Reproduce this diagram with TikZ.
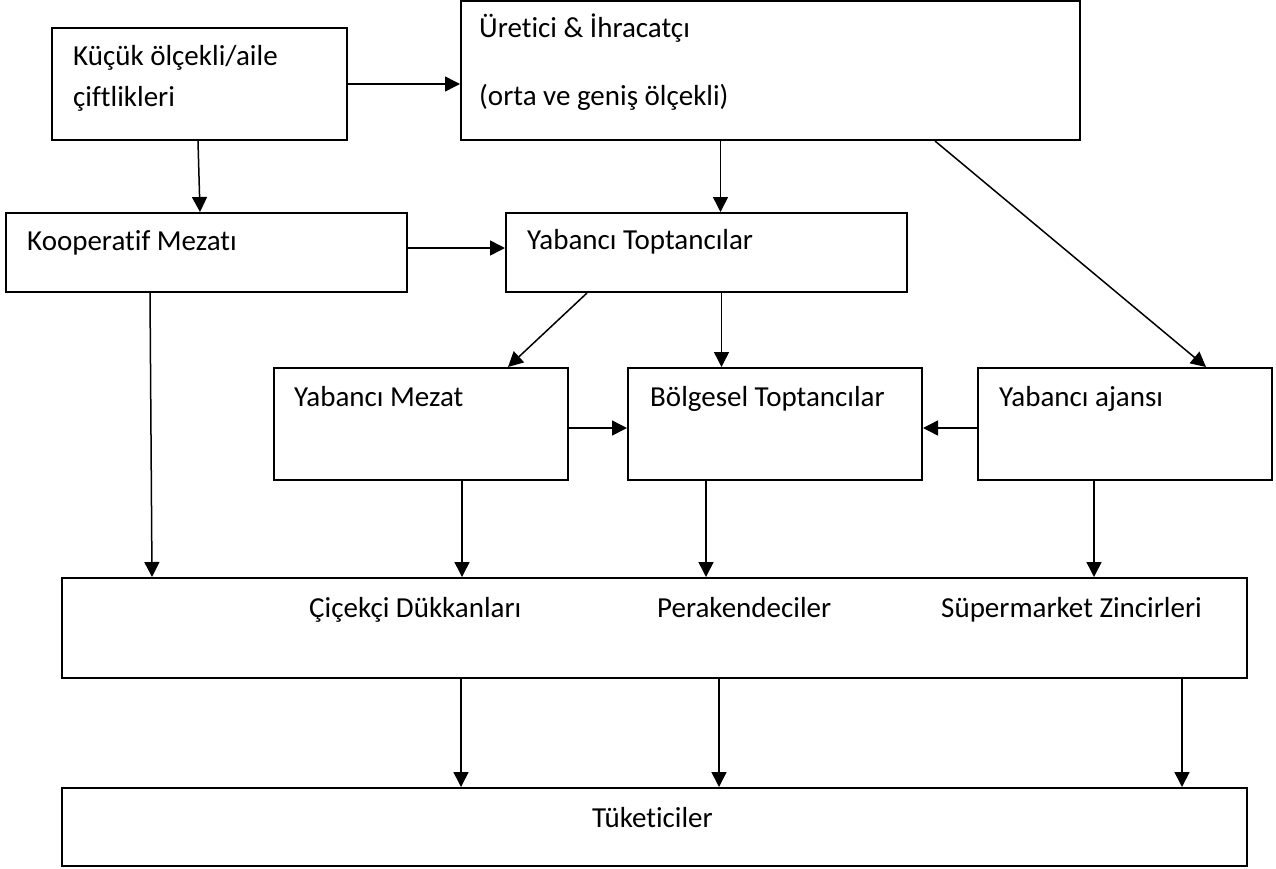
\documentclass[tikz,border=0pt]{standalone}
\usepackage{fontspec}
\setmainfont{Carlito}[Ligatures=CommonOff]
\usepackage{tikz}
\usetikzlibrary{positioning, calc, arrows.meta}
\tikzstyle{box}=[draw, line width=2pt, inner sep=0pt]
\tikzstyle{txt}=[inner sep=0pt, anchor=base west, font=\fontsize{29}{35}\selectfont]
\tikzstyle{arrow}=[-{Triangle[length=15pt,width=15pt]}, line width=1.5pt]

\begin{document}
\begin{tikzpicture}[x=1pt, y=-1pt]
  \useasboundingbox (0,0) rectangle (1276,868);
  \node [box, minimum width=295, minimum height=112] (farm) at (199.5,84) {};
  \node [box, minimum width=619, minimum height=139] (exporter) at (770.5,70.5) {};
  \node [box, minimum width=401, minimum height=79] (coop) at (206.5,252.5) {};
  \node [box, minimum width=401, minimum height=79] (wholesale-f) at (706.5,252.5) {};
  \foreach \n/\x in {auction-f/421, wholesale-r/775, agency/1125}
    \node [box, minimum width=294, minimum height=112] (\n) at (\x,424) {};
  \node [box, minimum width=1185, minimum height=100] (retail) at (654.5,628) {};
  \node [box, minimum width=1185, minimum height=78] (consumer) at (654.5,827) {};

  \node [txt] (farm-t1) at (73,65) {Küçük ölçekli/aile};
  \node [txt] (farm-t2) at (73,106) {çiftlikleri};
  \node [txt] (exporter-t1) at (479,37) {Üretici \& İhracatçı};
  \node [txt] (exporter-t2) at (479,105) {(orta ve geniş ölçekli)};
  \node [txt] (coop-t) at (27,250) {Kooperatif Mezatı};
  \node [txt] (wholesale-f-t) at (527,249) {Yabancı Toptancılar};
  \node [txt] (auction-f-t) at (294,406) {Yabancı Mezat};
  \node [txt] (wholesale-r-t) at (650,406) {Bölgesel Toptancılar};
  \node [txt] (agency-t) at (999,406) {Yabancı ajansı};
  \foreach \x/\l [count=\i] in {309/Çiçekçi Dükkanları, 657/Perakendeciler, 941/Süpermarket Zincirleri}
    \node [txt] (retail-t\i) at (\x,617) {\l};
  \node [txt] (consumer-t) at (592,827) {Tüketiciler};

  \draw [arrow] (farm.east) -- (farm.east -| exporter.west);
  \draw [arrow] ([xshift=-1.5]farm.south) -- ([xshift=-6.5]coop.north);
  \coordinate (p1) at ([xshift=-50]exporter.south);
  \draw [arrow] (p1) -- (p1 |- wholesale-f.north);
  \draw [arrow] ([xshift=164.5]exporter.south) -- ([xshift=81]agency.north);
  \coordinate (p2) at ([yshift=4.5]coop.east);
  \draw [arrow] (p2) -- (p2 -| wholesale-f.west);
  \draw [arrow] ([xshift=-56.5]coop.south) -- ([xshift=-502.5]retail.north);
  \draw [arrow] ([xshift=-119.5]wholesale-f.south) -- ([xshift=87]auction-f.north);
  \coordinate (p3) at ([xshift=15]wholesale-f.south);
  \draw [arrow] (p3) -- (p3 |- wholesale-r.north);
  \coordinate (p4) at ([yshift=-4]auction-f.east);
  \draw [arrow] (p4) -- (p4 -| wholesale-r.west);
  \coordinate (p5) at ([yshift=-4]agency.west);
  \draw [arrow] (p5) -- (p5 -| wholesale-r.east);
  \foreach \n/\d in {auction-f/41, wholesale-r/-69, agency/-31}{
    \coordinate (q) at ([xshift=\d]\n.south);
    \draw [arrow] (q) -- (q |- retail.north);
  }
  \foreach \d in {400,658,1121}
    \draw [arrow] ([xshift=\d]retail.south west) -- ([xshift=\d]consumer.north west);
\end{tikzpicture}
\end{document}
